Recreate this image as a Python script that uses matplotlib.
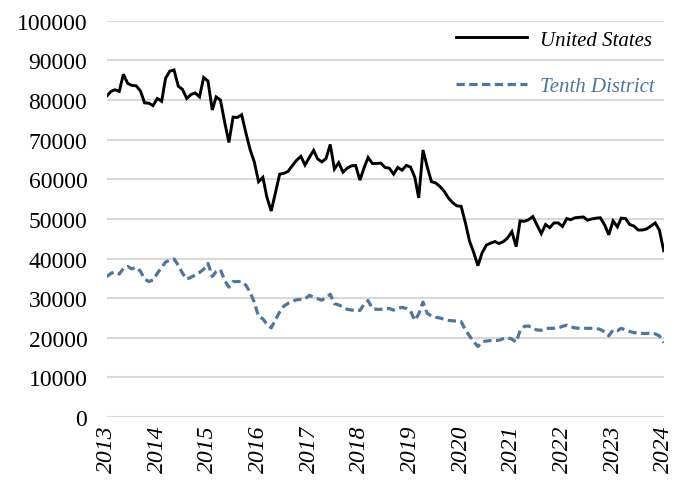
import numpy as np
import pandas as pd
import matplotlib
matplotlib.use("Agg")
import matplotlib.pyplot as plt

# Monthly series, Jan 2013 - Jan 2024
united_states = [
    81000, 82200, 82600, 82200, 86500, 84200, 83700, 83600, 82300, 79300,
    79200, 78600, 80400, 79700, 85500, 87300, 87600, 83500, 82700, 80400,
    81400, 81800, 80800, 85700, 84800, 77500, 80800, 80000, 74500, 69300,
    75700, 75600, 76300, 71800, 67500, 64400, 59400, 60500, 55500, 52000,
    56500, 61300, 61500, 62000, 63500, 64800, 65800, 63600, 65500, 67300,
    65200, 64400, 65200, 68800, 62600, 64200, 61800, 62800, 63400, 63500,
    59800, 63000, 65500, 64000, 64000, 64100, 63000, 62800, 61300, 63000,
    62300, 63500, 63100, 60500, 55300, 67400, 63200, 59400, 59100, 58200,
    57000, 55300, 54100, 53300, 53200, 49000, 44500, 41500, 38200, 41500,
    43400, 43900, 44300, 43800, 44300, 45200, 46800, 43000, 49500, 49400,
    49800, 50600, 48500, 46300, 48600, 47800, 49000, 49000, 48100, 50100,
    49800, 50300, 50400, 50500, 49700, 50000, 50200, 50300, 48500, 46000,
    49500, 48000, 50200, 50100, 48600, 48200, 47200, 47200, 47500, 48200,
    49000, 47200, 42000,
]

tenth_district = [
    35400, 36300, 36600, 36100, 37500, 38000, 37400, 37800, 36800, 34800,
    34200, 34600, 36300, 37800, 39100, 39600, 39900, 38300, 36300, 34800,
    35300, 35800, 36500, 37300, 38800, 35500, 36700, 37200, 34500, 32800,
    34200, 34200, 34200, 33300, 31500, 29000, 25400, 24800, 23400, 22500,
    24500, 26500, 28000, 28700, 29200, 29600, 29700, 29800, 30700, 30300,
    29900, 29500, 30200, 31000, 28600, 28300, 27800, 27200, 27000, 27000,
    26900, 28500, 29400, 27400, 27200, 27200, 27300, 27400, 27000, 27400,
    27700, 27400, 26800, 24400, 26000, 29000, 26200, 25500, 25200, 25000,
    24700, 24400, 24300, 24200, 24100, 22000, 20500, 19000, 17800, 19000,
    19200, 19300, 19300, 19400, 19800, 20000, 19700, 18900, 21800, 22900,
    23000, 22300, 22000, 21900, 22400, 22400, 22400, 22500, 22900, 23200,
    22800, 22500, 22400, 22400, 22400, 22400, 22400, 22100, 21500, 20500,
    22000, 21800, 22400, 22000, 21600, 21300, 21200, 21100, 21100, 21200,
    21000, 20500, 18800,
]

years = list(range(2013, 2025))
y_ticks = list(range(0, 100001, 10000))

dates = pd.date_range("2013-01-01", periods=len(united_states), freq="MS")

SERIF = ["Liberation Serif", "DejaVu Serif"]
BLUE = "#50769b"

fig = plt.figure(figsize=(6.8, 4.85), dpi=100)
ax = fig.add_axes([0.157, 0.138, 0.819, 0.817])

ax.plot(dates, united_states, color="black", lw=2.1, label="United States",
        solid_joinstyle="miter", zorder=3)
ax.plot(dates, tenth_district, color=BLUE, lw=2.3, dashes=(2.6, 1.4),
        label="Tenth District", zorder=3)

ax.set_ylim(0, 100000)
ax.set_xlim(dates[0], dates[-1])
ax.set_yticks(y_ticks)
ax.set_yticklabels([str(v) for v in y_ticks], family=SERIF, fontsize=17)
ax.yaxis.grid(True, color="#d9d9d9", lw=1.5)
ax.set_axisbelow(True)

tick_pos = [pd.Timestamp(f"{y}-01-01") for y in years]
ax.set_xticks(tick_pos)
ax.set_xticklabels([str(y) for y in years], rotation=90, family=SERIF,
                   style="italic", fontsize=17)

ax.tick_params(axis="x", length=0, pad=5)
ax.tick_params(axis="y", length=0, pad=14)
for s in ax.spines.values():
    s.set_visible(False)

leg = ax.legend(loc="upper right", frameon=False, handlelength=3.4,
                handletextpad=0.6, labelspacing=1.3, labelcolor="linecolor",
                prop={"family": SERIF, "style": "italic", "size": 15},
                borderaxespad=0.05, bbox_to_anchor=(1.0, 1.0))

fig.savefig("out.png", dpi=100)
